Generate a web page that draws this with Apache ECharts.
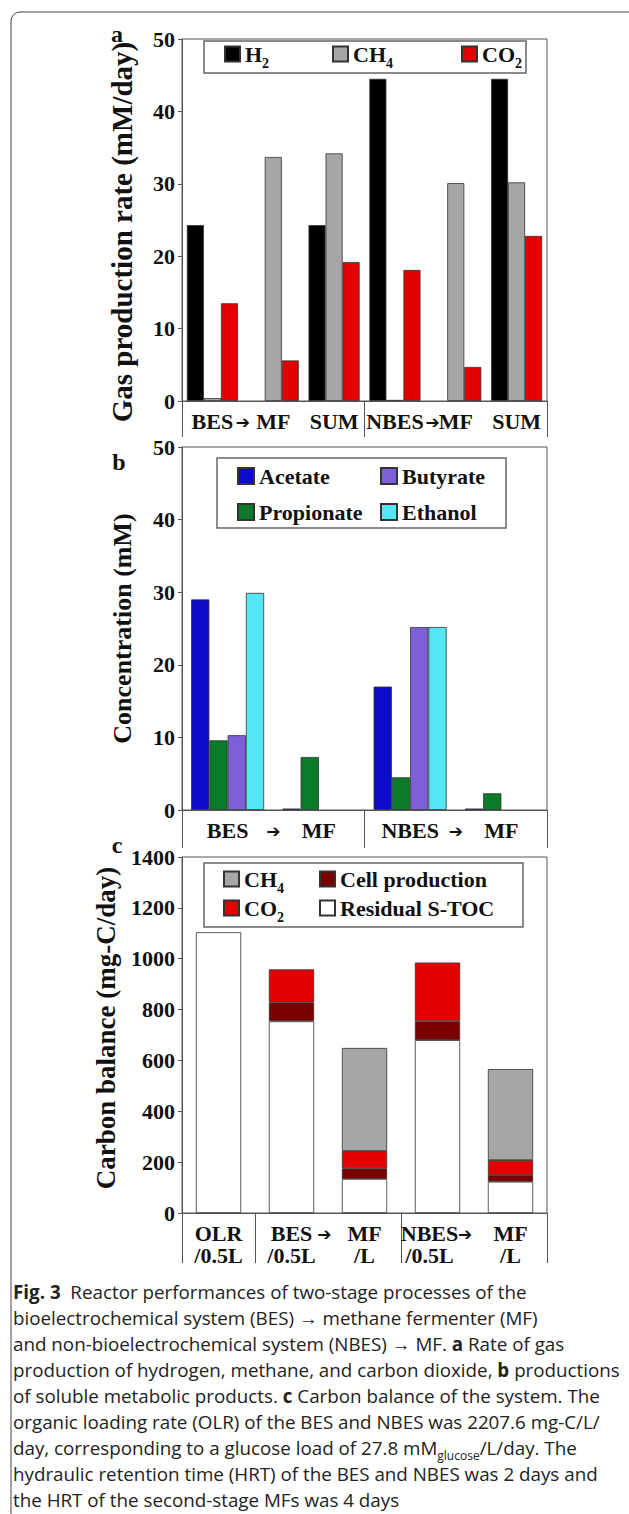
<!DOCTYPE html>
<html><head><meta charset="utf-8">
<script src="https://cdn.jsdelivr.net/npm/echarts@6/dist/echarts.min.js"></script>
<style>html,body{margin:0;padding:0;background:#fff}#c{width:629px;height:1514px}</style>
</head><body><div id="c"></div>
<script>
// ---------- DATA ----------
// Panel a: gas production rate (mM/day)
const catsA = ['BES', 'MF', 'SUM', 'NBES', 'MF', 'SUM'];
const gasH2  = [24.3, null, 24.3, 44.5, null, 44.5];
const gasCH4 = [0.4, 33.7, 34.2, 0.15, 30.1, 30.2];
const gasCO2 = [13.5, 5.6, 19.2, 18.1, 4.7, 22.8];
const ticksA = [0, 10, 20, 30, 40, 50];

// Panel b: concentration (mM)
const catsB = ['BES', 'MF', 'NBES', 'MF'];
const acetate    = [29.0, 0.2, 17.0, 0.2];
const propionate = [9.6, 7.3, 4.5, 2.3];
const butyrate   = [10.3, null, 25.2, null];
const ethanol    = [29.9, null, 25.2, null];
const ticksB = [0, 10, 20, 30, 40, 50];

// Panel c: carbon balance (mg-C/day), stacked bottom -> top
const catsC = ['OLR\n/0.5L', 'BES\n/0.5L', 'MF\n/L', 'NBES\n/0.5L', 'MF\n/L'];
const residualSTOC = [1104, 754, 134, 680, 123];
const cellProd     = [null, 74, 42, 74, 26];
const co2C         = [null, 130, 68, 231, 59];
const ch4C         = [null, null, 405, null, 358];
const ticksC = [0, 200, 400, 600, 800, 1000, 1200, 1400];

// ---------- STYLE ----------
const SERIF = '"Liberation Serif", "Times New Roman", serif';
const SANS = '"Open Sans", "Noto Sans", sans-serif';
const AX = '#555';
const TXT = '#111';
const bold = {fontFamily: SERIF, fontWeight: 'bold', color: TXT};
const C = {
  h2: '#000000', ch4: '#a6a6a6', co2: '#e20000',
  ace: '#0c0cc8', pro: '#0b7a2a', but: '#7c60d6', eth: '#55e6f5',
  cell: '#7a0000', res: '#ffffff'
};

const PL = 182, PW = 365;
const grids = [
  {left: PL, width: PW, top: 39, height: 362},
  {left: PL, width: PW, top: 447, height: 363},
  {left: PL, width: PW, top: 857, height: 356}
].map(g => Object.assign(g, {show: true, borderColor: AX, borderWidth: 1, backgroundColor: 'transparent'}));

function mainX(g, data) {
  return {
    type: 'category', gridIndex: g, data: data, position: 'bottom',
    axisLine: {lineStyle: {color: AX, width: 1}},
    axisTick: {inside: true, length: 6, lineStyle: {color: AX}},
    axisLabel: Object.assign({interval: 0, margin: 9, fontSize: 22, lineHeight: 22}, bold)
  };
}
function divX(g, n, tickVals, arrowVals, len) {
  return {
    type: 'value', gridIndex: g, min: 0, max: n, position: 'bottom',
    splitLine: {show: false}, axisLine: {show: false},
    axisTick: {show: true, inside: false, length: len, customValues: tickVals, lineStyle: {color: AX}},
    axisLabel: {show: true, customValues: arrowVals, formatter: () => '\u2794', margin: 12,
                fontSize: 17, fontWeight: 'bold', fontFamily: '"DejaVu Sans", sans-serif', color: TXT}
  };
}
function yAx(g, ticks, name, fs, gap, pad) {
  return {
    type: 'value', gridIndex: g, min: ticks[0], max: ticks[ticks.length - 1],
    interval: ticks[1] - ticks[0],
    axisLine: {show: true, lineStyle: {color: AX}},
    axisTick: {show: true, inside: false, length: 4, lineStyle: {color: AX}},
    splitLine: {show: false},
    axisLabel: Object.assign({margin: 7, fontSize: 22, formatter: v => String(v)}, bold),
    name: name, nameLocation: 'middle', nameGap: gap,
    nameTextStyle: Object.assign({fontSize: fs, padding: pad}, bold)
  };
}

const catsCItems = catsC.map((v, i) => i === 3 ? {value: v, textStyle: {padding: [0, 16, 0, 0]}} : v);

function bar(name, data, color, xi, extra) {
  return Object.assign({
    type: 'bar', name: name, data: data, xAxisIndex: xi, yAxisIndex: xi,
    itemStyle: {color: color, borderColor: '#333', borderWidth: 0.8},
    emphasis: {disabled: true}
  }, extra || {});
}

const legendNames = {
  aH2: '{n|H}{s|2}', aCH4: '{n|CH}{s|4}', aCO2: '{n|CO}{s|2}',
  Acetate: '{n|Acetate}{s| }', Propionate: '{n|Propionate}{s| }', Butyrate: '{n|Butyrate}{s| }', Ethanol: '{n|Ethanol}{s| }',
  cCH4: '{n|CH}{s|4}', cCO2: '{n|CO}{s|2}', cCell: '{n|Cell production}{s| }', cRes: '{n|Residual S-TOC}{s| }'
};
function legText(lh, slh) {
  return {
    fontFamily: SERIF, fontWeight: 'bold', fontSize: 22, color: TXT,
    rich: {
      n: {fontFamily: SERIF, fontWeight: 'bold', fontSize: 22, color: TXT, lineHeight: lh, verticalAlign: 'middle'},
      s: {fontFamily: SERIF, fontWeight: 'bold', fontSize: 14, color: TXT, lineHeight: slh, verticalAlign: 'bottom'}
    }
  };
}
function leg(data, left, top, orient, gap, size, lh, slh) {
  return {
    data: data, left: left, top: top, orient: orient, itemGap: gap, padding: 0,
    icon: 'rect', itemWidth: size, itemHeight: size, selectedMode: false,
    formatter: n => legendNames[n], textStyle: legText(lh, slh)
  };
}

const caption =
  '{b|Fig. 3}  Reactor performances of two-stage processes of the\n' +
  'bioelectrochemical system (BES) \u2192 methane fermenter (MF)\n' +
  'and non-bioelectrochemical system (NBES) \u2192 MF. {b|a} Rate of gas\n' +
  'production of hydrogen, methane, and carbon dioxide, {b|b} productions\n' +
  'of soluble metabolic products. {b|c} Carbon balance of the system. The\n' +
  'organic loading rate (OLR) of the BES and NBES was 2207.6 mg-C/L/\n' +
  'day, corresponding to a glucose load of 27.8 mM{sub|glucose}/L/day. The\n' +
  'hydraulic retention time (HRT) of the BES and NBES was 2 days and\n' +
  'the HRT of the second-stage MFs was 4 days';
const CAPFS = 18.8;

const option = {
  animation: false,
  backgroundColor: '#fff',
  textStyle: {fontFamily: SERIF},
  grid: grids,
  xAxis: [
    mainX(0, catsA), mainX(1, catsB), mainX(2, catsCItems),
    divX(0, 6, [0, 3, 6], [1.0, 4.12], 36),
    divX(1, 4, [0, 2, 4], [1, 3], 38),
    divX(2, 5, [0, 1, 3, 5], [1.95, 3.88], 50)
  ],
  yAxis: [
    yAx(0, ticksA, 'Gas production rate (mM/day)', 29, 46, [0, 24, 0, 0]),
    yAx(1, ticksB, 'Concentration (mM)', 26, 47, [0, 0, 0, 0]),
    yAx(2, ticksC, 'Carbon balance (mg-C/day)', 27, 63, [0, 0, 0, 14])
  ],
  legend: [
    leg(['aH2'], 224, 43, 'horizontal', 0, 15, 24, 32),
    leg(['aCH4'], 332, 43, 'horizontal', 0, 15, 24, 32),
    leg(['aCO2'], 461, 43, 'horizontal', 0, 15, 24, 32),
    leg(['Acetate', 'Propionate'], 237, 465, 'vertical', 9, 16, 24, 32),
    leg(['Butyrate', 'Ethanol'], 380, 465, 'vertical', 9, 16, 24, 32),
    leg(['cCH4', 'cCO2'], 223, 868, 'vertical', 2, 15, 24, 32),
    leg(['cCell', 'cRes'], 319, 868, 'vertical', 2, 15, 24, 32)
  ],
  series: [
    bar('aH2', gasH2, C.h2, 0, {barGap: '0%', barCategoryGap: '16%'}),
    bar('aCH4', gasCH4, C.ch4, 0, {barGap: '0%', barCategoryGap: '16%'}),
    bar('aCO2', gasCO2, C.co2, 0, {barGap: '0%', barCategoryGap: '16%'}),
    bar('Acetate', acetate, C.ace, 1, {barGap: '0%', barCategoryGap: '20%'}),
    bar('Propionate', propionate, C.pro, 1, {barGap: '0%', barCategoryGap: '20%'}),
    bar('Butyrate', butyrate, C.but, 1, {barGap: '0%', barCategoryGap: '20%'}),
    bar('Ethanol', ethanol, C.eth, 1, {barGap: '0%', barCategoryGap: '20%'}),
    bar('cRes', residualSTOC, C.res, 2, {stack: 'c', barCategoryGap: '38%'}),
    bar('cCell', cellProd, C.cell, 2, {stack: 'c', barCategoryGap: '38%'}),
    bar('cCO2', co2C, C.co2, 2, {stack: 'c', barCategoryGap: '38%'}),
    bar('cCH4', ch4C, C.ch4, 2, {stack: 'c', barCategoryGap: '38%'})
  ],
  graphic: [
    {type: 'rect', shape: {x: 11, y: 12, width: 700, height: 1600, r: [9, 0, 0, 0]},
     style: {fill: 'none', stroke: '#444', lineWidth: 1}, silent: true},
    {type: 'rect', shape: {x: 204, y: 41, width: 322, height: 32}, style: {fill: 'none', stroke: '#666', lineWidth: 1.5}, silent: true},
    {type: 'rect', shape: {x: 217, y: 458, width: 289, height: 70}, style: {fill: 'none', stroke: '#666', lineWidth: 1.5}, silent: true},
    {type: 'rect', shape: {x: 204, y: 863, width: 319, height: 64}, style: {fill: 'none', stroke: '#666', lineWidth: 1.5}, silent: true},
    {type: 'text', x: 117, y: 34, style: {text: 'a', font: 'bold 24px ' + SERIF, fill: TXT, align: 'center', verticalAlign: 'middle'}},
    {type: 'text', x: 119, y: 462, style: {text: 'b', font: 'bold 24px ' + SERIF, fill: TXT, align: 'center', verticalAlign: 'middle'}},
    {type: 'text', x: 117, y: 845, style: {text: 'c', font: 'bold 24px ' + SERIF, fill: TXT, align: 'center', verticalAlign: 'middle'}},
    {type: 'text', x: 13, y: 1279, style: {
      text: caption, fontFamily: SANS, fontSize: CAPFS, lineHeight: 26, fill: '#222',
      rich: {
        b: {fontFamily: SANS, fontWeight: 'bold', fontSize: CAPFS, lineHeight: 26, color: '#222'},
        sub: {fontFamily: SANS, fontSize: 12, lineHeight: 16, verticalAlign: 'bottom', color: '#222'}
      }
    }}
  ]
};

const chart = echarts.init(document.getElementById('c'), null, {renderer: 'svg', width: 629, height: 1514});
chart.setOption(option);
</script></body></html>
